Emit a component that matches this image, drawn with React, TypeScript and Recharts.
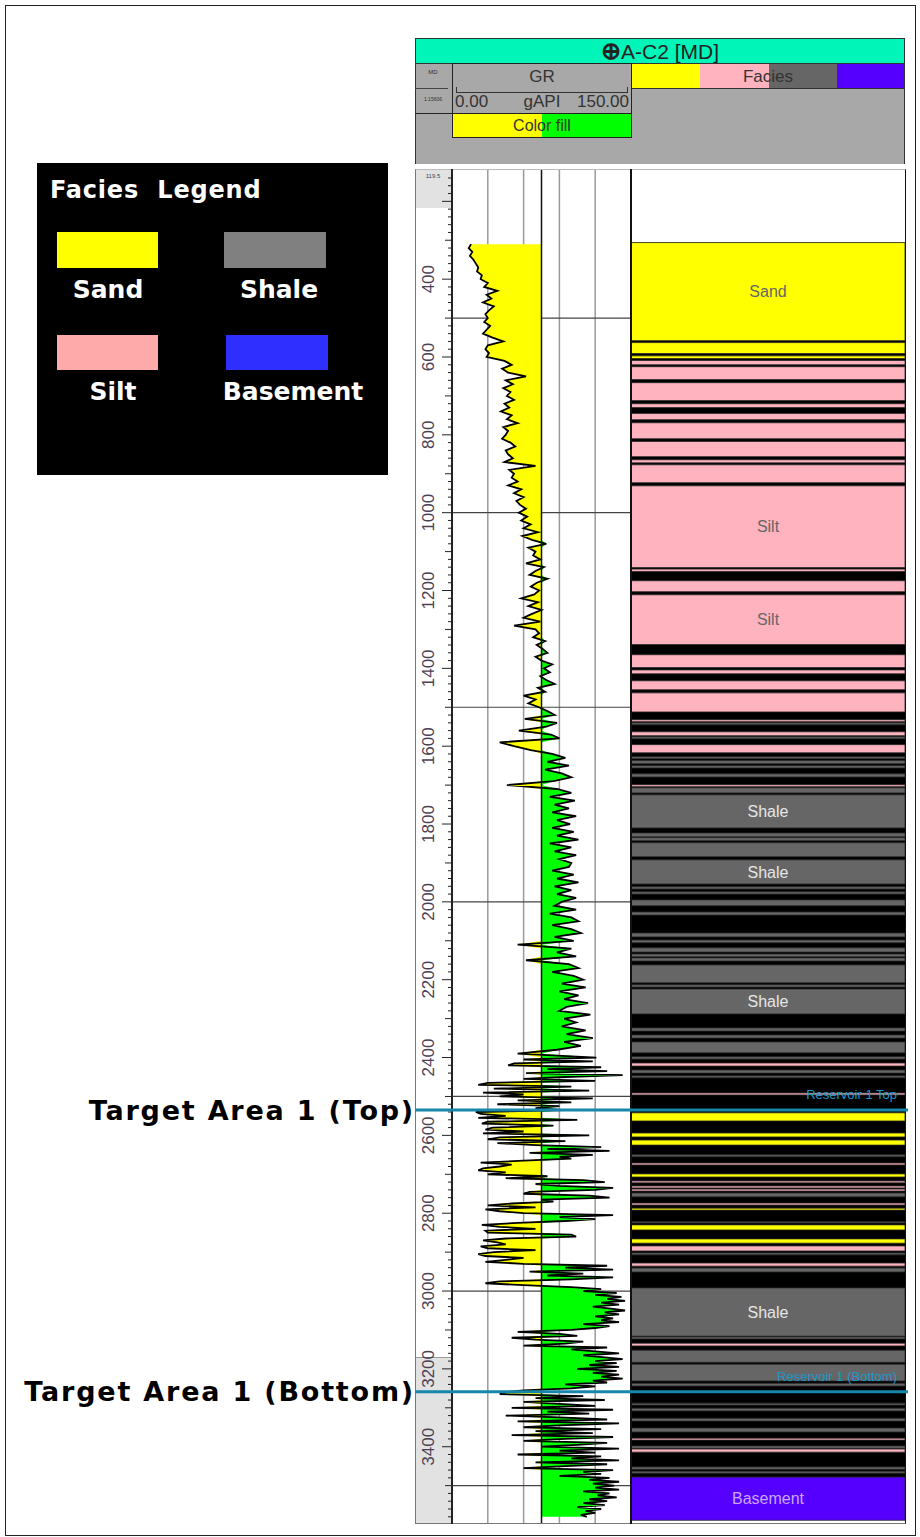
import React from 'react';
import {
  ComposedChart,
  Area,
  Line,
  XAxis,
  YAxis,
  CartesianGrid,
  ReferenceLine,
  ReferenceArea,
} from 'recharts';

// depth axis (m MD)
const DEPTH_DOMAIN: [number, number] = [119.5, 3596];
const DEPTH_LABELS = [400, 600, 800, 1000, 1200, 1400, 1600, 1800, 2000, 2200, 2400, 2600, 2800, 3000, 3200, 3400];
const GRID_DEPTHS = [500, 1000, 1500, 2000, 2500, 3000, 3500];
const GR_GRID = [30, 60, 90, 120];
const GR_CUTOFF = 75;

// GR log, upper part: one reading every 10 m from 310 m to 2400 m
const GR_UPPER_START = 310;
const GR_UPPER_STEP = 10;
const GR_UPPER = [
  16, 14, 17, 15, 18, 20, 22, 21, 25, 24,
  30, 27, 38, 29, 33, 26, 35, 31, 28, 30,
  27, 32, 29, 26, 34, 43, 30, 28, 31, 29,
  44, 50, 42, 47, 62, 45, 51, 43, 49, 46,
  52, 44, 48, 41, 50, 46, 55, 43, 47, 45,
  42, 49, 53, 45, 47, 51, 44, 70, 48, 52,
  50, 55, 47, 58, 52, 60, 54, 57, 62, 56,
  63, 58, 66, 60, 72, 59, 67, 79, 64, 70,
  68, 74, 62, 77, 70, 65, 80, 71, 66, 73,
  69, 58, 72, 64, 75, 67, 60, 74, 52, 70,
  73, 68, 78, 71, 76, 80, 70, 75, 84, 77,
  82, 74, 79, 86, 72, 78, 60, 70, 64, 73,
  80, 86, 61, 88, 79, 56, 83, 90, 40, 52,
  66, 84, 95, 80, 98, 78, 92, 100, 85, 46,
  88, 100, 82, 103, 86, 98, 84, 104, 88, 99,
  84, 102, 88, 106, 82, 100, 86, 104, 90, 100,
  98, 84, 102, 88, 106, 86, 100, 88, 104, 92,
  86, 104, 82, 100, 106, 84, 100, 108, 86, 102,
  55, 100, 88, 104, 62, 98, 106, 84, 102, 110,
  92, 112, 90, 106, 94, 114, 96, 90, 116, 94,
  104, 92, 112, 96, 118, 94, 108, 88, 55, 121,
];

// GR log, lower part: one reading every 5 m from 2405 m to 3580 m
const GR_LOWER_START = 2405;
const GR_LOWER_STEP = 5;
const GR_LOWER = [
  60, 118, 52, 47, 125, 80, 130, 62, 143, 95,
  60, 120, 30, 22, 100, 35, 115, 26, 60, 40,
  118, 55, 100, 38, 90, 70, 95, 20, 24, 45,
  22, 105, 30, 25, 85, 34, 28, 60, 26, 115,
  40, 30, 95, 38, 70, 125, 80, 132, 65, 118,
  90, 100, 60, 24, 50, 40, 26, 22, 45, 30,
  80, 45, 110, 128, 70, 90, 135, 120, 65, 60,
  115, 132, 75, 85, 50, 30, 70, 28, 40, 60,
  135, 90, 120, 95, 55, 25, 40, 70, 28, 30,
  100, 104, 45, 26, 38, 45, 24, 30, 70, 35,
  22, 28, 60, 45, 28, 60, 130, 95, 135, 65,
  110, 80, 135, 100, 40, 28, 60, 100, 125, 110,
  138, 120, 142, 130, 145, 125, 140, 118, 133, 145,
  128, 140, 120, 135, 125, 140, 110, 132, 120, 100,
  55, 90, 105, 50, 70, 110, 95, 60, 130, 100,
  120, 140, 110, 126, 143, 120, 138, 115, 140, 105,
  138, 118, 140, 125, 143, 118, 130, 95, 120, 100,
  60, 45, 40, 110, 70, 128, 60, 90, 120, 50,
  135, 80, 115, 45, 95, 130, 55, 140, 90, 60,
  125, 70, 118, 50, 135, 95, 60, 130, 105, 75,
  140, 90, 120, 55, 125, 100, 140, 70, 130, 95,
  60, 135, 110, 125, 90, 132, 115, 140, 118, 136,
  120, 140, 110, 132, 122, 138, 115, 130, 110, 128,
  105, 125, 112, 120, 108, 113,
];

// facies intervals [top, base] in m
const SAND = [
  [306, 558], [563, 591], [597, 604], [2542, 2563], [2594, 2604], [2612, 2625],
  [2699, 2707], [2787, 2792], [2830, 2843], [2866, 2877],
];
const SILT = [
  [609, 620], [625, 658], [666, 712], [720, 730], [745, 761], [769, 810], [817, 856],
  [864, 872], [877, 923], [931, 1141], [1145, 1151], [1175, 1203], [1211, 1339],
  [1365, 1398], [1404, 1414], [1432, 1455], [1463, 1512], [1532, 1537], [1563, 1573],
  [1596, 1617], [1699, 1704], [2414, 2422], [2491, 2496], [2671, 2676], [2717, 2722],
  [2730, 2735], [2738, 2743], [2774, 2779], [2884, 2897], [2928, 2936], [3134, 3141],
  [3378, 3383], [3406, 3414],
];
const SHALE = [
  [1540, 1545], [1576, 1581], [1627, 1632], [1637, 1645], [1650, 1656], [1671, 1679],
  [1707, 1720], [1725, 1810], [1823, 1833], [1835, 1843], [1848, 1884], [1892, 1954],
  [1961, 1967], [1974, 1980], [1995, 2010], [2026, 2034], [2080, 2090], [2098, 2105],
  [2118, 2129], [2134, 2141], [2144, 2152], [2162, 2208], [2213, 2219], [2224, 2288],
  [2324, 2332], [2342, 2350], [2360, 2388], [2398, 2404], [2432, 2440], [2447, 2452],
  [2650, 2655], [2748, 2758], [2822, 2825], [2902, 2907], [2941, 2951], [2992, 3116],
  [3118, 3123], [3152, 3183], [3188, 3231], [3237, 3244], [3288, 3293], [3301, 3308],
  [3327, 3334], [3352, 3362], [3398, 3404], [3452, 3458], [3463, 3468],
];
const BASEMENT = [[3478, 3589]];
const LABELLED_TOPS = [306, 931, 1211, 1725, 1892, 2224, 2992, 3478];
const FACIES_ZONE = [306, 3478];

// well tops
const MARKER_DEPTHS = [2535, 3259];
const MARKER_NAMES = ['Reservoir 1 Top', 'Reservoir 1 (Bottom)'];
const TARGET_NAMES = ['Target Area 1 (Top)', 'Target Area 1 (Bottom)'];

const SANS = '"Liberation Sans", Arial, sans-serif';
const BOLD = '"DejaVu Sans", Verdana, sans-serif';
const MARKER_COLOR = '#1686aa';

const FACIES = [
  { name: 'Sand', rows: SAND, fill: '#ffff00', text: '#666666' },
  { name: 'Silt', rows: SILT, fill: '#ffb3bf', text: '#666666' },
  { name: 'Shale', rows: SHALE, fill: '#666666', text: '#e6e6e6' },
  { name: 'Basement', rows: BASEMENT, fill: '#5500ff', text: '#c9a6ff' },
];

const DEPTH_TICKS: number[] = [];
for (let d = 140; d < DEPTH_DOMAIN[1]; d += 20) DEPTH_TICKS.push(d);

function DepthTick(props: any) {
  const { x, y, payload } = props;
  const v = payload.value as number;
  const len = v % 200 === 0 ? 10 : v % 100 === 0 ? 7 : 4;
  return (
    <g>
      <line x1={x - len} x2={x} y1={y} y2={y} stroke="#222" strokeWidth={1} />
      {DEPTH_LABELS.includes(v) && (
        <text
          transform={`translate(${x - 24},${y}) rotate(-90)`}
          textAnchor="middle"
          dominantBaseline="central"
          fontSize={17}
          fontFamily={SANS}
          fill="#4b4155"
        >
          {v}
        </text>
      )}
    </g>
  );
}

const box = (left: number, top: number, width: number, height: number, extra: React.CSSProperties = {}) =>
  ({ position: 'absolute', left, top, width, height, boxSizing: 'border-box', ...extra } as React.CSSProperties);

export default function App() {
  const grRows = [
    ...GR_UPPER.map((gr, i) => ({ depth: GR_UPPER_START + i * GR_UPPER_STEP, gr })),
    ...GR_LOWER.map((gr, i) => ({ depth: GR_LOWER_START + i * GR_LOWER_STEP, gr })),
  ];

  return (
    <div style={{ position: 'absolute', left: 0, top: 0, width: 920, height: 1537, background: '#fff', overflow: 'hidden' }}>
      <div style={box(5, 5, 911, 1531, { border: '1px solid #222' })} />

      {/* legend */}
      <div style={box(37, 163, 351, 312, { background: '#000', fontFamily: BOLD, fontWeight: 'bold', color: '#fff' })}>
        <div style={box(13, 12, 330, 30, { fontSize: 24, lineHeight: '30px', whiteSpace: 'pre', letterSpacing: 0.8 })}>Facies  Legend</div>
        <div style={box(20, 69, 101, 36, { background: '#ffff00' })} />
        <div style={box(187, 69, 102, 36, { background: '#808080' })} />
        <div style={box(20, 172, 101, 35, { background: '#ffaaaa' })} />
        <div style={box(189, 172, 102, 35, { background: '#2f2fff' })} />
        <div style={box(11, 112, 120, 30, { fontSize: 25, lineHeight: '30px', textAlign: 'center' })}>Sand</div>
        <div style={box(182, 112, 120, 30, { fontSize: 25, lineHeight: '30px', textAlign: 'center' })}>Shale</div>
        <div style={box(16, 214, 120, 30, { fontSize: 25, lineHeight: '30px', textAlign: 'center' })}>Silt</div>
        <div style={box(181, 214, 150, 30, { fontSize: 25, lineHeight: '30px', textAlign: 'center' })}>Basement</div>
      </div>

      {/* log header */}
      <div style={box(415, 63, 490, 101, { background: '#a8a8a8', borderLeft: '1px solid #333', borderRight: '1px solid #333' })} />
      <div style={box(415, 38, 490, 26, { background: '#00f5b9', border: '1px solid #333', textAlign: 'center', fontFamily: SANS, fontSize: 21, lineHeight: '24px', color: '#222' })}>
        <span style={{ fontWeight: 'bold', fontSize: 24 }}>⊕</span>A-C2 [MD]
      </div>
      <div style={box(415, 63, 38, 51, { borderRight: '1px solid #222', borderBottom: '1px solid #222' })}>
        <div style={box(0, 6, 36, 10, { fontFamily: SANS, fontSize: 6, textAlign: 'center', color: '#333' })}>MD</div>
        <div style={box(0, 25, 33, 1, { borderTop: '1px solid #444' })} />
        <div style={box(0, 33, 36, 10, { fontFamily: SANS, fontSize: 5, textAlign: 'center', color: '#333' })}>1:15606</div>
      </div>
      <div style={box(452, 63, 180, 51, { border: '1px solid #222', fontFamily: SANS, fontSize: 17, color: '#333' })}>
        <div style={box(0, 2, 178, 22, { textAlign: 'center', lineHeight: '22px' })}>GR</div>
        <div style={box(3, 23, 172, 6, { borderBottom: '1.5px solid #333', borderLeft: '1px solid #333', borderRight: '1px solid #333' })} />
        <div style={box(2, 28, 60, 20, { lineHeight: '20px' })}>0.00</div>
        <div style={box(59, 28, 60, 20, { lineHeight: '20px', textAlign: 'center' })}>gAPI</div>
        <div style={box(100, 28, 76, 20, { lineHeight: '20px', textAlign: 'right' })}>150.00</div>
      </div>
      <div
        style={box(452, 113, 180, 25, {
          border: '1px solid #222',
          background: 'linear-gradient(to right, #ffff00 0, #ffff00 89px, #00ff00 89px, #00ff00 100%)',
          fontFamily: SANS,
          fontSize: 16,
          lineHeight: '23px',
          textAlign: 'center',
          color: '#333',
        })}
      >
        Color fill
      </div>
      <div style={box(632, 64, 272, 25, { display: 'flex', borderBottom: '1px solid #333' })}>
        <div style={{ width: 68, background: '#ffff00' }} />
        <div style={{ width: 69, background: '#ffb3bf' }} />
        <div style={{ width: 68, background: '#666666' }} />
        <div style={{ width: 67, background: '#5500ff' }} />
      </div>
      <div style={box(632, 64, 272, 25, { textAlign: 'center', fontFamily: SANS, fontSize: 17, lineHeight: '25px', color: '#333' })}>Facies</div>

      {/* depth track shading */}
      <div style={box(415, 170, 37, 38, { background: '#e2e2e2' })} />
      <div style={box(415, 1357, 37, 166, { background: '#e2e2e2', borderTop: '1px solid #999' })} />
      <div style={box(416, 173, 34, 10, { fontFamily: SANS, fontSize: 6, color: '#444', textAlign: 'center' })}>119.5</div>

      {/* depth + GR track */}
      <div style={box(415, 170, 216, 1353)}>
        <ComposedChart layout="vertical" width={216} height={1353} data={grRows} margin={{ top: 0, right: 0, bottom: 0, left: 0 }}>
          <CartesianGrid horizontal={false} verticalValues={GR_GRID} stroke="#9a9a9a" strokeWidth={1.5} />
          <CartesianGrid vertical={false} horizontalValues={GRID_DEPTHS} stroke="#444" strokeWidth={1.2} />
          <XAxis type="number" domain={[0, 150]} hide allowDataOverflow />
          <YAxis
            type="number"
            dataKey="depth"
            domain={DEPTH_DOMAIN}
            allowDataOverflow
            width={37}
            ticks={DEPTH_TICKS}
            interval={0}
            tick={<DepthTick />}
            tickSize={0}
            tickMargin={0}
            tickLine={false}
            axisLine={false}
          />
          <Area
            dataKey={(r: any) => [Math.min(r.gr, GR_CUTOFF), GR_CUTOFF]}
            type="linear"
            fill="#ffff00"
            fillOpacity={1}
            stroke="none"
            isAnimationActive={false}
          />
          <Area
            dataKey={(r: any) => [GR_CUTOFF, Math.max(r.gr, GR_CUTOFF)]}
            type="linear"
            fill="#00ff00"
            fillOpacity={1}
            stroke="none"
            isAnimationActive={false}
          />
          <Line dataKey="gr" type="linear" stroke="#000" strokeWidth={1.8} dot={false} isAnimationActive={false} />
          <ReferenceLine x={GR_CUTOFF} stroke="#111" strokeWidth={1.5} />
        </ComposedChart>
      </div>

      {/* facies track */}
      <div style={box(631, 170, 274, 1353)}>
        <ComposedChart layout="vertical" width={274} height={1353} data={grRows} margin={{ top: 0, right: 0, bottom: 0, left: 0 }}>
          <XAxis type="number" domain={[0, 1]} hide allowDataOverflow />
          <YAxis type="number" dataKey="depth" domain={DEPTH_DOMAIN} hide allowDataOverflow />
          <ReferenceArea y1={FACIES_ZONE[0]} y2={FACIES_ZONE[1]} x1={0} x2={1} fill="#000" fillOpacity={1} stroke="none" />
          {FACIES.map((f) =>
            f.rows.map(([top, base]) => (
              <ReferenceArea
                key={`${f.name}-${top}`}
                y1={top}
                y2={base}
                x1={0}
                x2={1}
                fill={f.fill}
                fillOpacity={1}
                stroke="#2a2a2a"
                strokeWidth={0.8}
                label={
                  LABELLED_TOPS.includes(top)
                    ? { value: f.name, position: 'center', fill: f.text, fontSize: 16, fontFamily: SANS }
                    : undefined
                }
              />
            ))
          )}
        </ComposedChart>
      </div>

      {/* track frame */}
      <div style={box(415, 169, 491, 1355, { borderLeft: '1px solid #777', borderRight: '1.5px solid #111', borderBottom: '1px solid #777', borderTop: '1px solid #bbb' })} />
      <div style={box(451, 169, 2, 1355, { background: '#222' })} />
      <div style={box(630, 169, 2, 1355, { background: '#111' })} />

      {/* well tops overlay */}
      <div style={box(0, 170, 910, 1353)}>
        <ComposedChart layout="vertical" width={910} height={1353} data={grRows} margin={{ top: 0, right: 2, bottom: 0, left: 415 }}>
          <XAxis type="number" domain={[0, 1]} hide allowDataOverflow />
          <YAxis type="number" dataKey="depth" domain={DEPTH_DOMAIN} hide allowDataOverflow />
          {MARKER_DEPTHS.map((d, i) => (
            <ReferenceLine
              key={`m-${d}`}
              y={d}
              stroke="none"
              label={{ value: MARKER_NAMES[i], position: 'insideBottomRight', offset: 11, fill: '#1c98c8', fontSize: 13, fontFamily: SANS }}
            />
          ))}
          {MARKER_DEPTHS.map((d, i) => (
            <ReferenceLine
              key={`t-${d}`}
              y={d}
              stroke={MARKER_COLOR}
              strokeWidth={3}
              label={{
                value: TARGET_NAMES[i],
                position: 'left',
                offset: 0,
                fill: '#000',
                fontSize: 27,
                fontWeight: 'bold',
                fontFamily: BOLD,
                letterSpacing: 1.8,
              }}
            />
          ))}
        </ComposedChart>
      </div>
    </div>
  );
}
